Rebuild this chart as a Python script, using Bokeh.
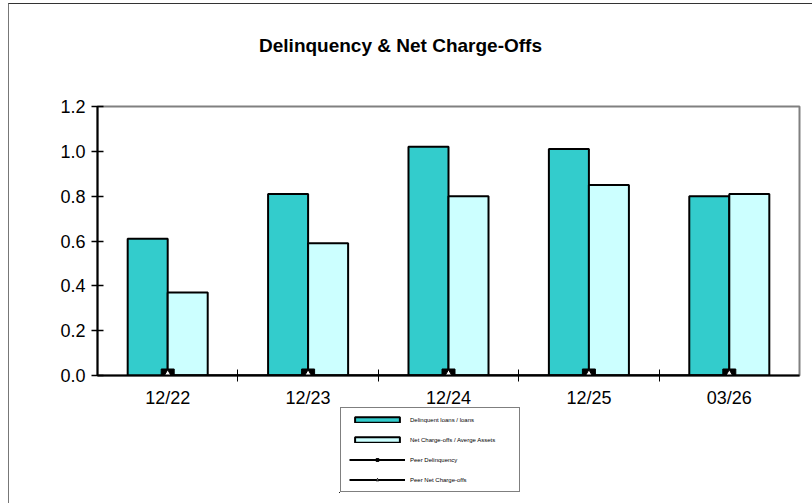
import numpy as np
from bokeh.plotting import figure
from bokeh.models import (FixedTicker, Range1d, Legend, LegendItem, Label,
                          ColumnDataSource)
from bokeh.embed import file_html
from bokeh.resources import INLINE

# ---- data ----
periods = ["12/22", "12/23", "12/24", "12/25", "03/26"]
delinquent = [0.61, 0.81, 1.02, 1.01, 0.80]
net_chargeoffs = [0.37, 0.59, 0.80, 0.85, 0.81]
peer_delinquency = [0.0, 0.0, 0.0, 0.0, 0.0]
peer_chargeoffs = [0.0, 0.0, 0.0, 0.0, 0.0]
y_ticks = [0.0, 0.2, 0.4, 0.6, 0.8, 1.0, 1.2]
series_names = ["Delinquent loans / loans", "Net Charge-offs / Averge Assets",
                "Peer Delinquency", "Peer Net Charge-offs"]
chart_title = "Delinquency & Net Charge-Offs"

FONT = "Liberation Sans"
DARK = "#33CCCC"
LIGHT = "#CCFFFF"
idx = np.arange(len(periods))
centers = idx + 0.5
bw = 0.285

src = ColumnDataSource(dict(
    dark_x=centers - bw / 2, light_x=centers + bw / 2, cx=centers,
    d=delinquent, n=net_chargeoffs, pd=peer_delinquency, pn=peer_chargeoffs))


def draw_series(fig):
    r_d = fig.vbar(x="dark_x", top="d", width=bw, source=src, fill_color=DARK,
                   line_color="black", line_width=2)
    r_n = fig.vbar(x="light_x", top="n", width=bw, source=src, fill_color=LIGHT,
                   line_color="black", line_width=2)
    l_pd = fig.line(x="cx", y="pd", source=src, line_color="black", line_width=2)
    s_pd = fig.scatter(x="cx", y="pd", source=src, marker="square", size=13,
                       fill_color="black", line_color="black")
    l_pn = fig.line(x="cx", y="pn", source=src, line_color="black", line_width=2)
    s_pn = fig.scatter(x="cx", y="pn", source=src, marker="triangle", size=10,
                       fill_color="white", line_color="black", line_width=1)
    return [[r_d], [r_n], [l_pd, s_pd], [l_pn, s_pn]]


p = figure(width=804, height=500, output_backend="svg", toolbar_location=None,
           x_range=Range1d(0, len(periods)), y_range=Range1d(0, 1.2),
           min_border_left=88, min_border_right=14, min_border_top=102,
           min_border_bottom=129)
p.styles = {"margin-left": "8px", "margin-top": "3px",
            "border-top": "1px solid #333333", "border-left": "1px solid #777777"}
p.grid.visible = False
p.outline_line_color = "#808080"
p.outline_line_width = 2
draw_series(p)

# axes
p.yaxis.ticker = FixedTicker(ticks=y_ticks)
p.yaxis.major_label_overrides = {t: f"{t:.1f}" for t in y_ticks}
p.yaxis.minor_tick_line_color = None
p.yaxis.major_tick_in = 6
p.yaxis.major_tick_out = 6
p.yaxis.axis_line_width = 2
p.yaxis.major_tick_line_width = 1.5
p.yaxis.major_label_text_font = FONT
p.yaxis.major_label_text_font_size = "18px"
p.yaxis.major_label_text_color = "black"
p.yaxis.major_label_standoff = 6

p.xaxis.ticker = FixedTicker(ticks=list(centers), minor_ticks=list(idx[1:]))
p.xaxis.major_label_overrides = {float(c): lab for c, lab in zip(centers, periods)}
p.xaxis.major_tick_line_color = None
p.xaxis.minor_tick_in = 6
p.xaxis.minor_tick_out = 6
p.xaxis.axis_line_width = 2
p.xaxis.major_label_text_font = FONT
p.xaxis.major_label_text_font_size = "18px"
p.xaxis.major_label_text_color = "black"
p.xaxis.major_label_standoff = 6

# ---- title: small overlay figure holding only the title text ----
tf = figure(width=400, height=40, output_backend="svg", toolbar_location=None,
            x_range=Range1d(0, 1), y_range=Range1d(0, 1), min_border=0,
            x_axis_location=None, y_axis_location=None)
tf.grid.visible = False
tf.outline_line_color = None
tf.background_fill_alpha = 0
tf.border_fill_alpha = 0
tf.styles = {"position": "absolute", "left": "200px", "top": "25px"}
tf.add_layout(Label(x=0.5, y=0.5, text=chart_title, text_font=FONT,
                    text_font_size="19px", text_font_style="bold",
                    text_color="black",
                    text_align="center", text_baseline="middle"))

# ---- legend: a small overlay figure holding only the legend ----
lg = figure(width=181, height=87, output_backend="svg", toolbar_location=None,
            x_range=Range1d(100, 101), y_range=Range1d(100, 101),
            min_border=0, x_axis_location=None, y_axis_location=None)
lg.grid.visible = False
lg.outline_line_color = None
lg.styles = {"position": "absolute", "left": "339px", "top": "406px"}
groups = draw_series(lg)

legend = Legend(items=[LegendItem(label=name, renderers=rs)
                       for name, rs in zip(series_names, groups)],
                location="top_left", orientation="vertical")
legend.label_text_font = FONT
legend.label_text_font_size = "6px"
legend.label_text_color = "black"
legend.glyph_width = 56
legend.glyph_height = 7
legend.label_height = 7
legend.label_width = 101
legend.spacing = 13
legend.padding = 8
legend.margin = 1
legend.label_standoff = 5
legend.border_line_color = "black"
legend.border_line_width = 1
legend.background_fill_alpha = 1
lg.add_layout(legend, "center")

open("out.html", "w").write(file_html([p, tf, lg], INLINE))
